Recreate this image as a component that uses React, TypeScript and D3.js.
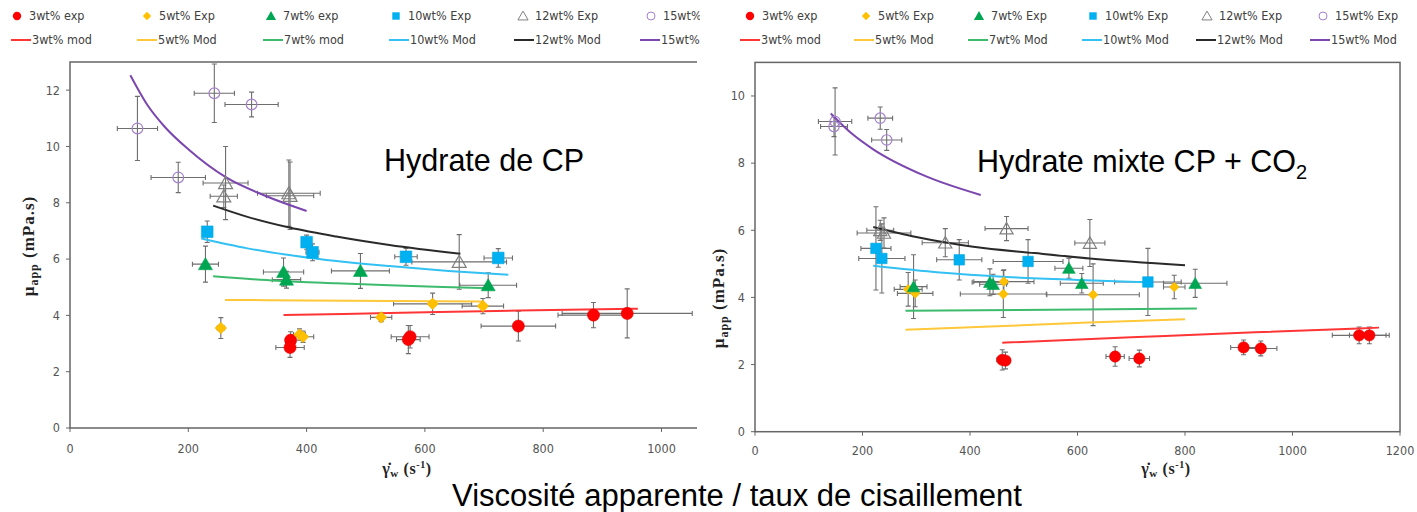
import React from "react";
import * as d3 from "d3";

type Pt = { x: number; y: number; ex: number; ey: number };
type XY = [number, number];

// Hydrate de CP (left panel) - experimental points with error bars
const cp3Exp: Pt[] = [
  { x: 373, y: 3.12, ex: 8, ey: 0.3 },
  { x: 372, y: 2.86, ex: 24, ey: 0.35 },
  { x: 575, y: 3.24, ex: 32, ey: 0.4 },
  { x: 572, y: 3.14, ex: 20, ey: 0.5 },
  { x: 758, y: 3.62, ex: 63, ey: 0.53 },
  { x: 885, y: 4.01, ex: 60, ey: 0.45 },
  { x: 942, y: 4.07, ex: 110, ey: 0.87 },
];
const cp5Exp: Pt[] = [
  { x: 255, y: 3.55, ex: 6, ey: 0.37 },
  { x: 388, y: 3.32, ex: 10, ey: 0.2 },
  { x: 394, y: 3.24, ex: 18, ey: 0.2 },
  { x: 526, y: 3.93, ex: 18, ey: 0.15 },
  { x: 613, y: 4.41, ex: 66, ey: 0.38 },
  { x: 698, y: 4.33, ex: 35, ey: 0.27 },
];
const cp7Exp: Pt[] = [
  { x: 229, y: 5.82, ex: 22, ey: 0.64 },
  { x: 361, y: 5.54, ex: 34, ey: 0.5 },
  { x: 366, y: 5.27, ex: 24, ey: 0.3 },
  { x: 491, y: 5.58, ex: 49, ey: 0.62 },
  { x: 707, y: 5.07, ex: 48, ey: 0.44 },
];
const cp10Exp: Pt[] = [
  { x: 232, y: 6.97, ex: 4, ey: 0.38 },
  { x: 400, y: 6.6, ex: 4, ey: 0.25 },
  { x: 410, y: 6.24, ex: 11, ey: 0.3 },
  { x: 568, y: 6.08, ex: 19, ey: 0.3 },
  { x: 724, y: 6.04, ex: 24, ey: 0.33 },
];
const cp12Exp: Pt[] = [
  { x: 263, y: 8.7, ex: 38, ey: 1.3 },
  { x: 260, y: 8.23, ex: 23, ey: 0.4 },
  { x: 370, y: 8.34, ex: 53, ey: 1.18 },
  { x: 372, y: 8.25, ex: 40, ey: 1.2 },
  { x: 658, y: 5.9, ex: 80, ey: 0.97 },
];
const cp15Exp: Pt[] = [
  { x: 114, y: 10.64, ex: 34, ey: 1.14 },
  { x: 244, y: 11.89, ex: 34, ey: 1.04 },
  { x: 307, y: 11.49, ex: 45, ey: 0.44 },
  { x: 183, y: 8.9, ex: 46, ey: 0.54 },
];

// Hydrate de CP - model curves
const cp3Mod: XY[] = [[361, 4.01], [560, 4.09], [760, 4.17], [960, 4.24]];
const cp5Mod: XY[] = [[262, 4.55], [400, 4.53], [550, 4.51], [699, 4.49]];
const cp7Mod: XY[] = [[242, 5.39], [350, 5.23], [450, 5.14], [540, 5.07], [630, 5.01], [712, 4.96]];
const cp10Mod: XY[] = [[222, 6.73], [300, 6.38], [410, 6.03], [540, 5.75], [640, 5.58], [741, 5.44]];
const cp12Mod: XY[] = [[242, 7.9], [300, 7.5], [371, 7.12], [450, 6.8], [540, 6.5], [660, 6.19]];
const cp15Mod: XY[] = [[102, 12.53], [130, 11.5], [160, 10.7], [200, 9.9], [264, 8.9], [330, 8.25], [400, 7.71]];

// Hydrate mixte CP + CO2 (right panel) - experimental points
const mx3Exp: Pt[] = [
  { x: 460, y: 2.14, ex: 10, ey: 0.3 },
  { x: 466, y: 2.12, ex: 8, ey: 0.25 },
  { x: 670, y: 2.24, ex: 17, ey: 0.29 },
  { x: 715, y: 2.18, ex: 19, ey: 0.25 },
  { x: 909, y: 2.51, ex: 24, ey: 0.22 },
  { x: 941, y: 2.48, ex: 30, ey: 0.22 },
  { x: 1124, y: 2.87, ex: 50, ey: 0.25 },
  { x: 1143, y: 2.87, ex: 37, ey: 0.25 },
];
const mx5Exp: Pt[] = [
  { x: 285, y: 4.24, ex: 26, ey: 0.5 },
  { x: 298, y: 4.12, ex: 33, ey: 0.4 },
  { x: 463, y: 4.47, ex: 56, ey: 0.35 },
  { x: 462, y: 4.1, ex: 80, ey: 0.7 },
  { x: 629, y: 4.08, ex: 86, ey: 0.92 },
  { x: 780, y: 4.31, ex: 20, ey: 0.35 },
];
const mx7Exp: Pt[] = [
  { x: 295, y: 4.32, ex: 25, ey: 0.95 },
  { x: 437, y: 4.45, ex: 33, ey: 0.4 },
  { x: 443, y: 4.39, ex: 25, ey: 0.3 },
  { x: 584, y: 4.87, ex: 26, ey: 0.3 },
  { x: 608, y: 4.42, ex: 40, ey: 0.29 },
  { x: 819, y: 4.42, ex: 59, ey: 0.42 },
];
const mx10Exp: Pt[] = [
  { x: 225, y: 5.46, ex: 28, ey: 1.24 },
  { x: 236, y: 5.16, ex: 43, ey: 1.03 },
  { x: 380, y: 5.12, ex: 42, ey: 0.6 },
  { x: 508, y: 5.07, ex: 65, ey: 0.65 },
  { x: 731, y: 4.46, ex: 62, ey: 1.0 },
];
const mx12Exp: Pt[] = [
  { x: 233, y: 6.0, ex: 25, ey: 0.3 },
  { x: 240, y: 5.92, ex: 50, ey: 0.45 },
  { x: 354, y: 5.63, ex: 43, ey: 0.42 },
  { x: 468, y: 6.05, ex: 40, ey: 0.36 },
  { x: 623, y: 5.62, ex: 28, ey: 0.7 },
];
const mx15Exp: Pt[] = [
  { x: 149, y: 9.24, ex: 31, ey: 1.0 },
  { x: 147, y: 9.09, ex: 25, ey: 0.3 },
  { x: 233, y: 9.34, ex: 23, ey: 0.33 },
  { x: 245, y: 8.69, ex: 28, ey: 0.31 },
];

// Hydrate mixte - model curves
const mx3Mod: XY[] = [[460, 2.65], [700, 2.81], [930, 2.96], [1161, 3.1]];
const mx5Mod: XY[] = [[280, 3.04], [450, 3.14], [620, 3.25], [800, 3.35]];
const mx7Mod: XY[] = [[280, 3.6], [550, 3.63], [822, 3.67]];
const mx10Mod: XY[] = [[220, 4.94], [344, 4.74], [468, 4.61], [600, 4.52], [730, 4.45]];
const mx12Mod: XY[] = [[220, 6.1], [300, 5.8], [406, 5.51], [520, 5.32], [623, 5.16], [800, 4.96]];
const mx15Mod: XY[] = [[141, 9.48], [180, 8.88], [220, 8.41], [313, 7.64], [420, 7.05]];

// Ticks
const xTicksCP = [0, 200, 400, 600, 800, 1000];
const yTicksCP = [0, 2, 4, 6, 8, 10, 12];
const xTicksMix = [0, 200, 400, 600, 800, 1000, 1200];
const yTicksMix = [0, 2, 4, 6, 8, 10];

// Legend labels
const expLabelsCP = ["3wt% exp", "5wt% Exp", "7wt% exp", "10wt% Exp", "12wt% Exp", "15wt% Exp"];
const modLabelsCP = ["3wt% mod", "5wt% Mod", "7wt% mod", "10wt% Mod", "12wt% Mod", "15wt% Mod"];
const expLabelsMix = ["3wt% exp", "5wt% Exp", "7wt% Exp", "10wt% Exp", "12wt% Exp", "15wt% Exp"];
const modLabelsMix = ["3wt% mod", "5wt% Mod", "7wt% Mod", "10wt% Mod", "12wt% Mod", "15wt% Mod"];

// Series styles (3, 5, 7, 10, 12, 15 wt%)
const markerFill = ["#ff0000", "#ffc000", "#00a651", "#00b0f0", "none", "none"];
const markerStroke = ["#e00000", "#f0b000", "#00a651", "#00a8e8", "#808080", "#a582cc"];
const symbolTypes = [d3.symbolCircle, d3.symbolDiamond2, d3.symbolTriangle, d3.symbolSquare, d3.symbolTriangle, d3.symbolCircle];
const lineColors = ["#ff3535", "#ffc83a", "#3dbb6d", "#33c0f2", "#2a2a2a", "#7b46ae"];

const tickFont = "'DejaVu Sans Condensed', 'Liberation Sans Narrow', sans-serif";
const labelFont = "'Liberation Serif', 'DejaVu Serif', serif";
const titleFont = "'Liberation Sans', Arial, sans-serif";

type PanelProps = {
  xDomain: [number, number];
  xRange: [number, number];
  yDomain: [number, number];
  yRange: [number, number];
  xTicks: number[];
  yTicks: number[];
  exp: Pt[][];
  mod: XY[][];
  sizes: number[];
  boxed: boolean;
  tickPad: number;
};

const Panel = ({ xDomain, xRange, yDomain, yRange, xTicks, yTicks, exp, mod, sizes, boxed, tickPad }: PanelProps) => {
  const x = d3.scaleLinear().domain(xDomain).range(xRange);
  const y = d3.scaleLinear().domain(yDomain).range(yRange);
  const line = d3
    .line<XY>()
    .x((d) => x(d[0]))
    .y((d) => y(d[1]))
    .curve(d3.curveMonotoneX);
  const [x0, x1] = xRange;
  const [y0, y1] = yRange;
  const cap = 2.5;

  return (
    <g>
      {/* frame */}
      {boxed ? (
        <rect x={x0} y={y1} width={x1 - x0} height={y0 - y1} fill="none" stroke="#666" strokeWidth={1.5} />
      ) : (
        <path d={`M${x1},${y1}H${x0}V${y0}H${x1}`} fill="none" stroke="#666" strokeWidth={1.5} />
      )}
      {yTicks.map((t) => (
        <g key={"y" + t}>
          <line x1={x0 - 4} x2={x0} y1={y(t)} y2={y(t)} stroke="#666" />
          <text x={x0 - 10} y={y(t)} dy="0.35em" textAnchor="end" fontFamily={tickFont} fontSize={12.5} fill="#555">
            {t}
          </text>
        </g>
      ))}
      {xTicks.map((t) => (
        <g key={"x" + t}>
          <line x1={x(t)} x2={x(t)} y1={y0} y2={y0 + 4} stroke="#666" />
          <text x={x(t)} y={y0 + tickPad} textAnchor="middle" fontFamily={tickFont} fontSize={12.5} fill="#555">
            {t}
          </text>
        </g>
      ))}

      {/* error bars */}
      {exp.map((pts, i) =>
        pts.map((p, j) => {
          const cx = x(p.x);
          const cy = y(p.y);
          const xl = x(p.x - p.ex);
          const xr = x(p.x + p.ex);
          const yt = y(p.y + p.ey);
          const yb = y(p.y - p.ey);
          return (
            <path
              key={`e${i}-${j}`}
              d={`M${xl},${cy}H${xr}M${xl},${cy - cap}V${cy + cap}M${xr},${cy - cap}V${cy + cap}` +
                `M${cx},${yt}V${yb}M${cx - cap},${yt}H${cx + cap}M${cx - cap},${yb}H${cx + cap}`}
              fill="none"
              stroke="#6e6e6e"
              strokeWidth={1.1}
            />
          );
        })
      )}

      {/* model curves */}
      {mod.map((m, i) => (
        <path key={"m" + i} d={line(m) || ""} fill="none" stroke={lineColors[i]} strokeWidth={2} />
      ))}

      {/* experimental markers */}
      {exp.map((pts, i) =>
        pts.map((p, j) => (
          <path
            key={`p${i}-${j}`}
            transform={`translate(${x(p.x)},${y(p.y) + (symbolTypes[i] === d3.symbolTriangle ? 1.5 : 0)})`}
            d={d3.symbol(symbolTypes[i], sizes[i])() || ""}
            fill={markerFill[i]}
            stroke={markerStroke[i]}
            strokeWidth={i >= 4 ? 1.2 : 0.6}
          />
        ))
      )}
    </g>
  );
};

const Legend = ({ expX, modX, expLabels, modLabels }: { expX: number[]; modX: number[]; expLabels: string[]; modLabels: string[] }) => {
  const legendSizes = [55, 45, 45, 55, 45, 50];
  return (
    <g fontFamily={tickFont} fontSize={12.5} fill="#404040">
      {expLabels.map((l, i) => (
        <g key={"le" + i}>
          <path
            transform={`translate(${expX[i]},${16 + (i === 2 || i === 4 ? 1 : 0)})`}
            d={d3.symbol(symbolTypes[i], legendSizes[i])() || ""}
            fill={markerFill[i]}
            stroke={i >= 4 ? markerStroke[i] : "none"}
            strokeWidth={1}
          />
          <text x={expX[i] + 12} y={16} dy="0.35em">
            {l}
          </text>
        </g>
      ))}
      {modLabels.map((l, i) => (
        <g key={"lm" + i}>
          <line x1={modX[i]} x2={modX[i] + 20} y1={40} y2={40} stroke={lineColors[i]} strokeWidth={2} />
          <text x={modX[i] + 21} y={40} dy="0.35em">
            {l}
          </text>
        </g>
      ))}
    </g>
  );
};

const Mu = ({ x, y }: { x: number; y: number }) => (
  <text
    transform={`translate(${x},${y}) rotate(-90)`}
    textAnchor="middle"
    fontFamily={labelFont}
    fontWeight="bold"
    fontSize={17}
    letterSpacing={1}
    fill="#222"
  >
    μ<tspan fontSize={12} dy={4}>app</tspan>
    <tspan dy={-4}> (mPa.s)</tspan>
  </text>
);

const Gamma = ({ x, y }: { x: number; y: number }) => (
  <text x={x} y={y} textAnchor="middle" fontFamily={labelFont} fontWeight="bold" fontSize={16} fill="#222" letterSpacing={0.6}>
    {"γ\u0307"}
    <tspan fontSize={11} dy={3}>w</tspan>
    <tspan dy={-3}> (s</tspan>
    <tspan fontSize={10} dy={-6}>-1</tspan>
    <tspan dy={6}>)</tspan>
  </text>
);

export default function App() {
  return (
    <svg width={1417} height={512} style={{ position: "absolute", left: 0, top: 0, background: "#fff" }}>
      <rect width={1417} height={512} fill="#fff" />
      <defs>
        <clipPath id="leftClip">
          <rect x={0} y={0} width={700} height={512} />
        </clipPath>
      </defs>

      <g clipPath="url(#leftClip)">
        <Legend
          expX={[17, 147, 271, 396, 523, 651]}
          modX={[11, 137, 263, 389, 514, 640]}
          expLabels={expLabelsCP}
          modLabels={modLabelsCP}
        />
        <Panel
          xDomain={[0, 1060]}
          xRange={[70, 697]}
          yDomain={[0, 13]}
          yRange={[428, 62]}
          xTicks={xTicksCP}
          yTicks={yTicksCP}
          exp={[cp3Exp, cp5Exp, cp7Exp, cp10Exp, cp12Exp, cp15Exp]}
          mod={[cp3Mod, cp5Mod, cp7Mod, cp10Mod, cp12Mod, cp15Mod]}
          sizes={[115, 85, 85, 135, 85, 90]}
          boxed={false}
          tickPad={25}
        />
      </g>
      <Mu x={34} y={246} />
      <Gamma x={407} y={474} />
      <text x={384} y={171} fontFamily={titleFont} fontSize={30.5} fill="#000">
        Hydrate de CP
      </text>

      <Legend
        expX={[750, 866, 979, 1093, 1207, 1323]}
        modX={[740, 854, 968, 1082, 1196, 1310]}
        expLabels={expLabelsMix}
        modLabels={modLabelsMix}
      />
      <Panel
        xDomain={[0, 1200]}
        xRange={[755, 1400]}
        yDomain={[0, 11]}
        yRange={[431.7, 62.4]}
        xTicks={xTicksMix}
        yTicks={yTicksMix}
        exp={[mx3Exp, mx5Exp, mx7Exp, mx10Exp, mx12Exp, mx15Exp]}
        mod={[mx3Mod, mx5Mod, mx7Mod, mx10Mod, mx12Mod, mx15Mod]}
        sizes={[100, 60, 70, 110, 75, 85]}
        boxed={true}
        tickPad={23}
      />
      <Mu x={724} y={298} />
      <Gamma x={1166} y={474} />
      <text x={977} y={172} fontFamily={titleFont} fontSize={30.5} fill="#000">
        Hydrate mixte CP + CO<tspan fontSize={20} dy={7}>2</tspan>
      </text>

      <text x={737} y={506} textAnchor="middle" fontFamily={titleFont} fontSize={31} fill="#000">
        Viscosité apparente / taux de cisaillement
      </text>
    </svg>
  );
}
